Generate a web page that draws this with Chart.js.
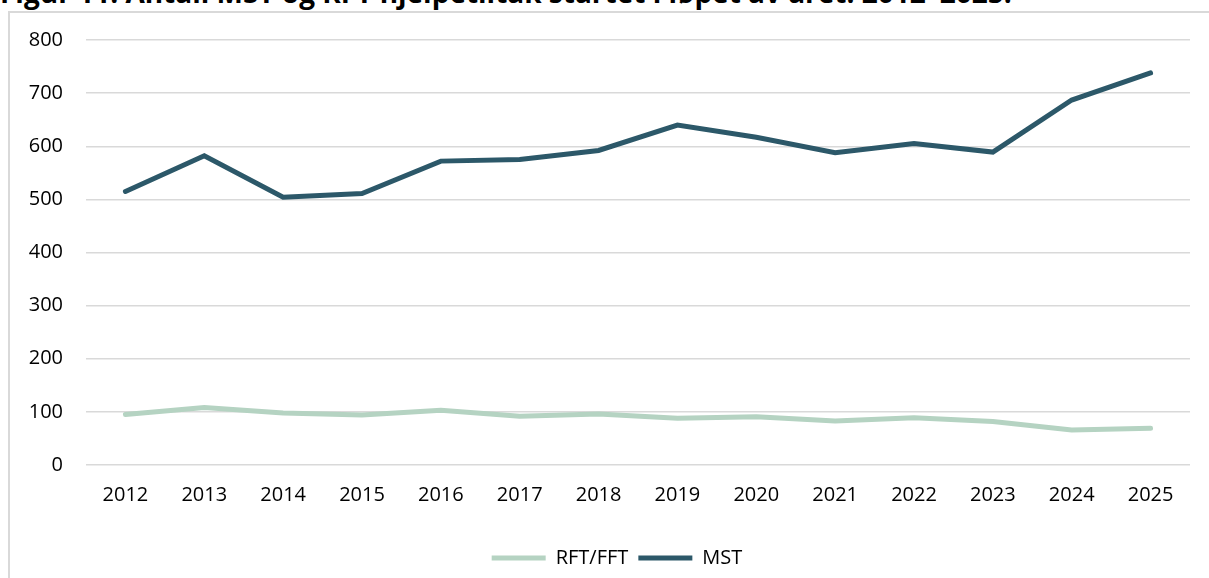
<!DOCTYPE html>
<html>
<head>
<meta charset="utf-8">
<script src="https://cdn.jsdelivr.net/npm/chart.js@4"></script>
<style>
  html, body { margin: 0; padding: 0; background: #fff; overflow: hidden; }
  #title {
    position: absolute; left: 0; top: -27px; white-space: nowrap;
    font: bold 28px "Open Sans", sans-serif; color: #000;
  }
  #frame {
    position: absolute; left: 8px; top: 11px; width: 1240px; height: 600px;
    border: 2px solid #d9d9d9; box-sizing: border-box;
  }
  #wrap { position: absolute; left: 0; top: 0; width: 1209px; height: 578px; }
</style>
</head>
<body>
<div id="title">Figur 11: Antall MST og RFT hjelpetiltak startet i løpet av året. 2012–2025.</div>
<div id="frame"></div>
<div id="wrap"><canvas id="chart" width="1209" height="578"></canvas></div>
<script>
const years = ['2012', '2013', '2014', '2015', '2016', '2017', '2018', '2019', '2020', '2021', '2022', '2023', '2024', '2025'];
const rftValues = [95, 108, 98, 94, 103, 92, 96, 88, 91, 83, 89, 82, 66, 69];
const mstValues = [515, 582, 504, 511, 572, 575, 592, 640, 617, 588, 605, 589, 687, 738];
const yTicks = [0, 100, 200, 300, 400, 500, 600, 700, 800];

// the legend sits a bit right of the canvas centre in the original
const legendShift = {
    id: 'legendShift',
    afterLayout: function(chart) {
        chart.legend.left += 22;
        chart.legend.right += 22;
    }
};

document.addEventListener('DOMContentLoaded', function() {
    const ctx = document.getElementById('chart').getContext('2d');
    Chart.defaults.font.family = '"Open Sans", sans-serif';
    Chart.defaults.color = '#000';

    new Chart(ctx, {
        type: 'line',
        data: {
            labels: years,
            datasets: [{
                label: 'RFT/FFT',
                data: rftValues,
                borderColor: '#b5d3c2',
                backgroundColor: '#b5d3c2',
                borderWidth: 5,
                borderCapStyle: 'round',
                pointRadius: 0,
                tension: 0
            }, {
                label: 'MST',
                data: mstValues,
                borderColor: '#2c5869',
                backgroundColor: '#2c5869',
                borderWidth: 5,
                borderCapStyle: 'round',
                pointRadius: 0,
                tension: 0
            }]
        },
        options: {
            responsive: false,
            animation: false,
            layout: { padding: { left: 0, right: 19, top: 40, bottom: 0 } },
            plugins: {
                tooltip: { enabled: false },
                legend: {
                    position: 'bottom',
                    labels: {
                        usePointStyle: true,
                        pointStyle: 'line',
                        pointStyleWidth: 54,
                        padding: 10,
                        font: { size: 20 }
                    }
                }
            },
            scales: {
                x: {
                    offset: true,
                    grid: { display: false, drawTicks: false },
                    border: { display: false },
                    ticks: { padding: 18, font: { size: 20 }, maxRotation: 0 },
                    afterFit: function(scale) { scale.height = 73; }
                },
                y: {
                    min: 0,
                    max: 800,
                    afterBuildTicks: function(scale) {
                        scale.ticks = yTicks.map(v => ({ value: v }));
                    },
                    grid: { color: '#d9d9d9', lineWidth: 1.5, drawTicks: false },
                    border: { display: false },
                    ticks: { padding: 23, font: { size: 20 } },
                    afterFit: function(scale) { scale.width = 86; }
                }
            }
        },
        plugins: [legendShift]
    });
});
</script>
</body>
</html>
